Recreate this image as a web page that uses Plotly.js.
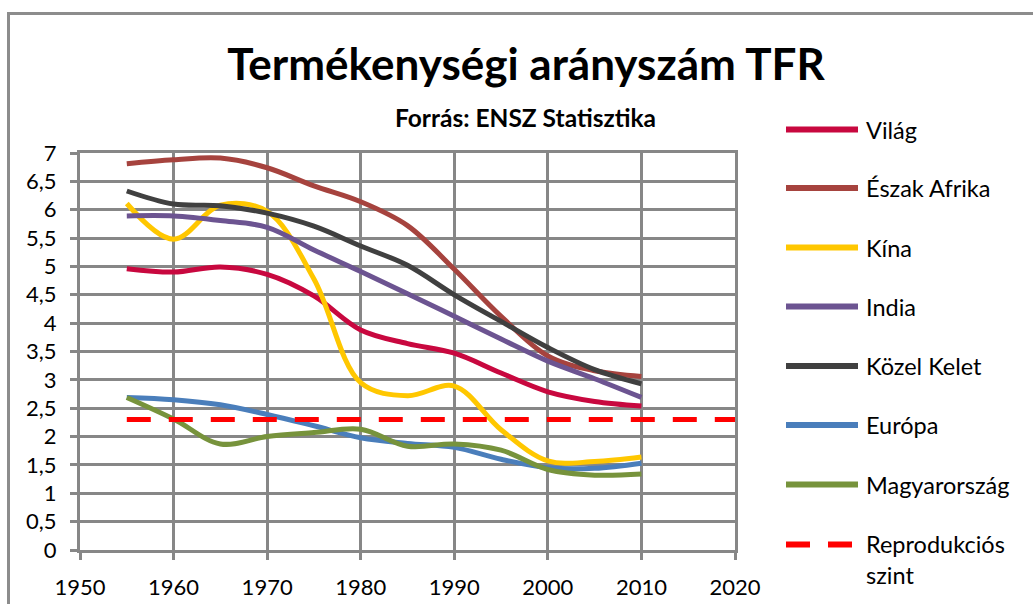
<!DOCTYPE html>
<html>
<head>
<meta charset="utf-8">
<script src="https://cdn.plot.ly/plotly-3.0.1.min.js"></script>
<style>
  html, body { margin: 0; padding: 0; background: #ffffff; }
  #chart { width: 1033px; height: 604px; }
</style>
</head>
<body>
<div id="chart"></div>
<script>
// ---- Data ----
const years = [1955, 1960, 1965, 1970, 1975, 1980, 1985, 1990, 1995, 2000, 2005, 2010];
const vilag = [4.96, 4.90, 4.99, 4.86, 4.48, 3.88, 3.64, 3.47, 3.12, 2.79, 2.62, 2.54];
const eszakAfrika = [6.81, 6.88, 6.91, 6.74, 6.42, 6.14, 5.72, 4.95, 4.12, 3.42, 3.16, 3.06];
const kina = [6.11, 5.48, 6.08, 5.97, 4.78, 2.95, 2.72, 2.89, 2.12, 1.57, 1.56, 1.64];
const india = [5.89, 5.89, 5.81, 5.69, 5.29, 4.91, 4.52, 4.12, 3.72, 3.33, 3.02, 2.69];
const kozelKelet = [6.33, 6.10, 6.07, 5.94, 5.71, 5.36, 5.02, 4.50, 4.03, 3.57, 3.18, 2.93];
const europa = [2.69, 2.65, 2.56, 2.39, 2.19, 1.98, 1.88, 1.81, 1.60, 1.45, 1.44, 1.53];
const magyarorszag = [2.69, 2.31, 1.87, 2.00, 2.07, 2.13, 1.83, 1.87, 1.76, 1.42, 1.32, 1.34];
const reprodYears = [1955, 2020];
const reprodValues = [2.3, 2.3];

const seriesNames = ["Világ", "Észak Afrika", "Kína", "India", "Közel Kelet", "Európa", "Magyarország"];
const seriesValues = [vilag, eszakAfrika, kina, india, kozelKelet, europa, magyarorszag];
const seriesColors = ["#C8083F", "#A6433E", "#FFC700", "#6C5491", "#404040", "#4A7EBB", "#77933C"];
const reprodName = "Reprodukciós<br>szint";
const reprodColor = "#FF0000";

const titleText = "Termékenységi arányszám TFR";
const subtitleText = "Forrás: ENSZ Statisztika";

const xTicks = [1950, 1960, 1970, 1980, 1990, 2000, 2010, 2020];

// ---- Layout geometry (pixels) ----
const W = 1033, H = 604;
const L = 80, R = 735, T = 153, B = 550;
const pw = R - L, ph = B - T;
const px = v => (v - L) / pw;
const py = v => (B - v) / ph;

const gridColor = "#878787";
const FONT = "Lato, 'Open Sans', sans-serif";

const traces = seriesNames.map((n, i) => ({
  type: "scatter", mode: "lines", name: n,
  x: years, y: seriesValues[i],
  line: { color: seriesColors[i], width: 5, shape: "spline", smoothing: 1 },
  showlegend: false, hoverinfo: "x+y+name"
}));
traces.push({
  type: "scatter", mode: "lines", name: "Reprodukciós szint",
  x: reprodYears, y: reprodValues,
  line: { color: reprodColor, width: 5, dash: "24px,18px" },
  showlegend: false
});

// ---- Manual legend (long line samples like the original) ----
const legendY = [129.5, 188, 247.5, 306.5, 366, 425, 484.5, 544.5];
const shapes = [];
const annotations = [];
seriesNames.forEach((n, i) => {
  shapes.push({ type: "line", xref: "paper", yref: "paper",
    x0: px(786), x1: px(858), y0: py(legendY[i]), y1: py(legendY[i]),
    line: { color: seriesColors[i], width: 6 } });
  annotations.push({ xref: "paper", yref: "paper", x: px(864), y: py(legendY[i]),
    xanchor: "left", yanchor: "middle", showarrow: false, text: n,
    font: { family: FONT, size: 23.5, color: "#000" } });
});
shapes.push({ type: "line", xref: "paper", yref: "paper",
  x0: px(786), x1: px(852), y0: py(legendY[7]), y1: py(legendY[7]),
  line: { color: reprodColor, width: 6, dash: "24px,18px" } });
annotations.push({ xref: "paper", yref: "paper", x: px(864), y: py(legendY[7] - 17),
  xanchor: "left", yanchor: "top", align: "left", showarrow: false, text: reprodName,
  font: { family: FONT, size: 23.5, color: "#000" } });

// subtitle
annotations.push({ xref: "paper", yref: "paper", x: px(525), y: py(117),
  xanchor: "center", yanchor: "middle", showarrow: false, text: "<b>" + subtitleText + "</b>",
  font: { family: FONT, size: 24.5, color: "#000" } });

// outer chart frame (extends beyond the picture on right and bottom)
shapes.push({ type: "rect", xref: "paper", yref: "paper",
  x0: px(8.5), x1: px(1045), y0: py(13.5), y1: py(640),
  line: { color: "#8C8C8C", width: 3 }, layer: "below" });

const layout = {
  width: W, height: H,
  margin: { l: L, r: W - R, t: T, b: H - B, pad: 0 },
  paper_bgcolor: "#fff", plot_bgcolor: "#fff",
  separators: ",.",
  font: { family: FONT, size: 22, color: "#000" },
  title: { text: "<b>" + titleText + "</b>", font: { family: FONT, size: 44, color: "#000" },
    xref: "container", yref: "container", x: 526 / W, y: 1 - 65 / H,
    xanchor: "center", yanchor: "middle" },
  xaxis: {
    range: [1950, 2020], tickvals: xTicks, ticktext: xTicks.map(String),
    showgrid: true, gridcolor: gridColor, gridwidth: 3,
    showline: true, linecolor: gridColor, linewidth: 3, mirror: true,
    ticks: "outside", ticklen: 7, tickwidth: 3, tickcolor: gridColor,
    ticklabelstandoff: 9, zeroline: false,
    tickfont: { family: FONT, size: 22, color: "#000" }
  },
  yaxis: {
    range: [0, 7], dtick: 0.5, tick0: 0,
    showgrid: true, gridcolor: gridColor, gridwidth: 3,
    showline: true, linecolor: gridColor, linewidth: 3, mirror: true,
    ticks: "outside", ticklen: 7, tickwidth: 3, tickcolor: gridColor,
    ticklabelstandoff: 9, zeroline: false,
    tickfont: { family: FONT, size: 22, color: "#000" }
  },
  shapes: shapes,
  annotations: annotations,
  showlegend: false
};

Plotly.newPlot("chart", traces, layout, { displayModeBar: false, staticPlot: true });
</script>
</body>
</html>
